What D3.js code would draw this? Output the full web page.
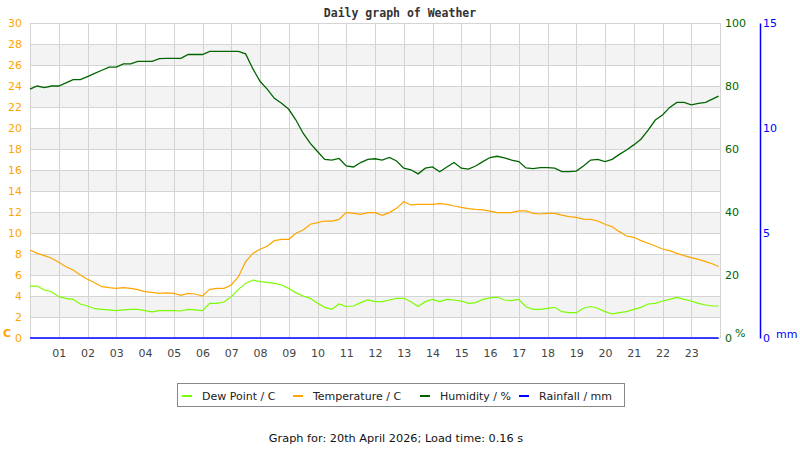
<!DOCTYPE html>
<html>
<head>
<meta charset="utf-8">
<script src="https://cdn.jsdelivr.net/npm/d3@7"></script>
<style>
  body { margin: 0; background: #fff; }
  svg text { font-family: "DejaVu Sans", sans-serif; }
</style>
</head>
<body>
<div id="chart"></div>
<script>
// readings every 15 minutes, hours of the day
var times = [
  0, 0.25, 0.5, 0.75, 1, 1.25, 1.5, 1.75, 2, 2.25, 2.5, 2.75,
  3, 3.25, 3.5, 3.75, 4, 4.25, 4.5, 4.75, 5, 5.25, 5.5, 5.75,
  6, 6.25, 6.5, 6.75, 7, 7.25, 7.5, 7.75, 8, 8.25, 8.5, 8.75,
  9, 9.25, 9.5, 9.75, 10, 10.25, 10.5, 10.75, 11, 11.25, 11.5, 11.75,
  12, 12.25, 12.5, 12.75, 13, 13.25, 13.5, 13.75, 14, 14.25, 14.5, 14.75,
  15, 15.25, 15.5, 15.75, 16, 16.25, 16.5, 16.75, 17, 17.25, 17.5, 17.75,
  18, 18.25, 18.5, 18.75, 19, 19.25, 19.5, 19.75, 20, 20.25, 20.5, 20.75,
  21, 21.25, 21.5, 21.75, 22, 22.25, 22.5, 22.75, 23, 23.25, 23.5, 23.75, 23.95
];

var humidity = [
  79, 80, 79.5, 80, 80, 81, 82, 82, 83, 84, 85, 86,
  86, 87, 87, 87.8, 87.8, 87.8, 88.7, 88.8, 88.8, 88.8, 90, 90,
  90, 91, 91, 91, 91, 91, 90.2, 85.5, 81.5, 79, 76.1, 74.5,
  72.6, 69.2, 65, 61.8, 59.2, 56.7, 56.5, 57, 54.6, 54.3, 55.7, 56.7,
  56.9, 56.5, 57.3, 56.2, 53.9, 53.4, 52.1, 53.9, 54.3, 52.8, 54.3, 55.7,
  53.9, 53.6, 54.6, 56, 57.3, 57.7, 57.2, 56.5, 56, 54, 53.8, 54.1,
  54.1, 53.9, 52.8, 52.8, 53, 54.6, 56.5, 56.7, 56, 56.7, 58.3, 59.7,
  61.3, 63.1, 66, 69.2, 70.8, 73.2, 74.8, 74.8, 74, 74.5, 74.8, 75.9, 76.8
];

var temperature = [
  8.38, 8.06, 7.84, 7.59, 7.21, 6.79, 6.48, 6.0, 5.59, 5.27, 4.89, 4.79,
  4.73, 4.79, 4.73, 4.6, 4.41, 4.35, 4.25, 4.3, 4.25, 4.06, 4.25, 4.19,
  4.0, 4.63, 4.73, 4.73, 5.05, 5.84, 7.27, 8.06, 8.45, 8.73, 9.27, 9.4,
  9.4, 9.97, 10.29, 10.83, 10.98, 11.14, 11.14, 11.3, 11.97, 11.87, 11.78, 11.94,
  11.94, 11.68, 11.94, 12.35, 12.98, 12.67, 12.73, 12.73, 12.73, 12.8, 12.73, 12.57,
  12.44, 12.32, 12.25, 12.2, 12.08, 11.94, 11.94, 11.94, 12.1, 12.1, 11.87, 11.81,
  11.87, 11.87, 11.71, 11.56, 11.49, 11.33, 11.3, 11.14, 10.83, 10.6, 10.13, 9.71,
  9.59, 9.27, 9.02, 8.76, 8.48, 8.32, 8.06, 7.84, 7.65, 7.49, 7.27, 7.05, 6.79
];

var dewPoint = [
  4.95, 4.95, 4.57, 4.41, 3.94, 3.78, 3.68, 3.24, 3.05, 2.79, 2.73, 2.67,
  2.6, 2.67, 2.73, 2.73, 2.6, 2.48, 2.6, 2.6, 2.6, 2.57, 2.73, 2.67,
  2.6, 3.3, 3.3, 3.43, 3.94, 4.63, 5.2, 5.52, 5.37, 5.3, 5.2, 5.05,
  4.73, 4.3, 4.0, 3.78, 3.3, 2.92, 2.73, 3.24, 3.0, 3.05, 3.37, 3.62,
  3.46, 3.46, 3.62, 3.78, 3.78, 3.46, 3.0, 3.46, 3.68, 3.46, 3.68, 3.62,
  3.52, 3.3, 3.37, 3.68, 3.82, 3.9, 3.62, 3.56, 3.68, 2.98, 2.73, 2.73,
  2.83, 2.92, 2.51, 2.41, 2.41, 2.83, 3.0, 2.83, 2.51, 2.29, 2.41, 2.51,
  2.73, 2.92, 3.24, 3.3, 3.52, 3.68, 3.87, 3.68, 3.52, 3.3, 3.14, 3.05, 3.05
];

// rain gauge, hourly
var rainTimes = [0, 1, 2, 3, 4, 5, 6, 7, 8, 9, 10, 11, 12, 13, 14, 15, 16, 17, 18, 19, 20, 21, 22, 23, 23.95];
var rainfall  = [0, 0, 0, 0, 0, 0, 0, 0, 0, 0, 0, 0, 0, 0, 0, 0, 0, 0, 0, 0, 0, 0, 0, 0, 0];

var hourTicks = [1, 2, 3, 4, 5, 6, 7, 8, 9, 10, 11, 12, 13, 14, 15, 16, 17, 18, 19, 20, 21, 22, 23];
var tempTicks = [0, 2, 4, 6, 8, 10, 12, 14, 16, 18, 20, 22, 24, 26, 28, 30];
var humTicks = [0, 20, 40, 60, 80, 100];
var rainTicks = [0, 5, 10, 15];

var legendItems = [
  {label: "Dew Point / C", color: "#7CFC00"},
  {label: "Temperature / C", color: "#FFA500"},
  {label: "Humidity / %", color: "#006400"},
  {label: "Rainfall / mm", color: "#0000FF"}
];

var W = 800, H = 450;
var plot = {left: 30, right: 720, top: 23, bottom: 338};

var svg = d3.select("#chart").append("svg")
  .attr("width", W)
  .attr("height", H);

var x = d3.scaleLinear().domain([0, 24]).range([plot.left, plot.right]);
var yT = d3.scaleLinear().domain([0, 30]).range([plot.bottom, plot.top]);
var yH = d3.scaleLinear().domain([0, 100]).range([plot.bottom, plot.top]);
var yR = d3.scaleLinear().domain([0, 15]).range([plot.bottom, plot.top]);

// shaded bands (2-4, 6-8, ... 26-28)
var bands = tempTicks.filter(function (t) { return t % 4 === 2 && t < 30; });
svg.append("g").selectAll("rect").data(bands).enter().append("rect")
  .attr("x", plot.left)
  .attr("width", plot.right - plot.left)
  .attr("y", function (d) { return yT(d + 2); })
  .attr("height", function (d) { return yT(d) - yT(d + 2); })
  .attr("fill", "#f3f3f3");

// grid
var grid = svg.append("g").attr("stroke", "#d4d4d4").attr("stroke-width", 1);
grid.selectAll("line.h").data(tempTicks).enter().append("line")
  .attr("x1", plot.left).attr("x2", plot.right)
  .attr("y1", function (d) { return Math.round(yT(d)) + 0.5; })
  .attr("y2", function (d) { return Math.round(yT(d)) + 0.5; });
grid.selectAll("line.v").data([0].concat(hourTicks, [24])).enter().append("line")
  .attr("y1", plot.top).attr("y2", plot.bottom)
  .attr("x1", function (d) { return Math.round(x(d)) + 0.5; })
  .attr("x2", function (d) { return Math.round(x(d)) + 0.5; });

// title
svg.append("text")
  .attr("x", 400).attr("y", 17)
  .attr("text-anchor", "middle")
  .style("font-family", "'DejaVu Sans Mono', monospace")
  .style("font-weight", "bold")
  .style("font-size", "11.5px")
  .attr("fill", "#333")
  .text("Daily graph of Weather");

// axes
function styleAxis(g, color) {
  g.select(".domain").remove();
  g.selectAll("text").attr("fill", color).style("font-size", "11px")
    .style("font-family", "'DejaVu Sans', sans-serif");
}

svg.append("g")
  .attr("transform", "translate(" + plot.left + ",0)")
  .call(d3.axisLeft(yT).tickValues(tempTicks).tickSize(0).tickPadding(8))
  .call(styleAxis, "#FFA500");

svg.append("g")
  .attr("transform", "translate(" + plot.right + ",0)")
  .call(d3.axisRight(yH).tickValues(humTicks).tickSize(0).tickPadding(5))
  .call(styleAxis, "#006400");

var rainAxis = svg.append("g")
  .attr("transform", "translate(760,0)")
  .call(d3.axisRight(yR).tickValues(rainTicks).tickSize(0).tickSizeOuter(0).tickPadding(3));
rainAxis.select(".domain").attr("stroke", "#0000FF").attr("stroke-width", 1.5);
rainAxis.selectAll("text").attr("fill", "#0000FF").style("font-size", "11px");

svg.append("g")
  .attr("transform", "translate(0," + plot.bottom + ")")
  .call(d3.axisBottom(x).tickValues(hourTicks).tickFormat(d3.format("02d")).tickSize(0).tickPadding(11))
  .call(styleAxis, "#444");

// axis units
svg.append("text").attr("x", 3).attr("y", 337)
  .attr("fill", "#FFA500").style("font-size", "11px").style("font-weight", "bold").text("C");
svg.append("text").attr("x", 735).attr("y", 337)
  .attr("fill", "#006400").style("font-size", "11px").text("%");
svg.append("text").attr("x", 776).attr("y", 338)
  .attr("fill", "#0000FF").style("font-size", "11px").text("mm");

// series
function drawLine(xs, ys, yScale, color, width) {
  var pts = xs.map(function (t, i) { return [x(t), yScale(ys[i])]; });
  svg.append("path")
    .attr("d", d3.line()(pts))
    .attr("fill", "none")
    .attr("stroke", color)
    .attr("stroke-width", width);
}

drawLine(times, dewPoint, yT, "#7CFC00", 1.2);
drawLine(times, temperature, yT, "#FFA500", 1.2);
drawLine(times, humidity, yH, "#006400", 1.3);
drawLine(rainTimes, rainfall, yR, "#0000FF", 1.6);

// legend
var legend = svg.append("g");
legend.append("rect")
  .attr("x", 177.5).attr("y", 383.5)
  .attr("width", 447).attr("height", 23)
  .attr("fill", "#fff").attr("stroke", "#888");
var legendX = [182, 293, 420, 519];
var items = legend.selectAll("g.item").data(legendItems).enter().append("g")
  .attr("transform", function (d, i) { return "translate(" + legendX[i] + ",395)"; });
items.append("line")
  .attr("x1", 0).attr("x2", 10).attr("y1", 1).attr("y2", 1)
  .attr("stroke", function (d) { return d.color; }).attr("stroke-width", 2);
items.append("text")
  .attr("x", 20).attr("y", 4.5)
  .attr("fill", "#222").style("font-size", "11px")
  .text(function (d) { return d.label; });

// footer
svg.append("text")
  .attr("x", 396).attr("y", 442)
  .attr("text-anchor", "middle")
  .attr("fill", "#111").style("font-size", "11.3px")
  .text("Graph for: 20th April 2026; Load time: 0.16 s");
</script>
</body>
</html>
